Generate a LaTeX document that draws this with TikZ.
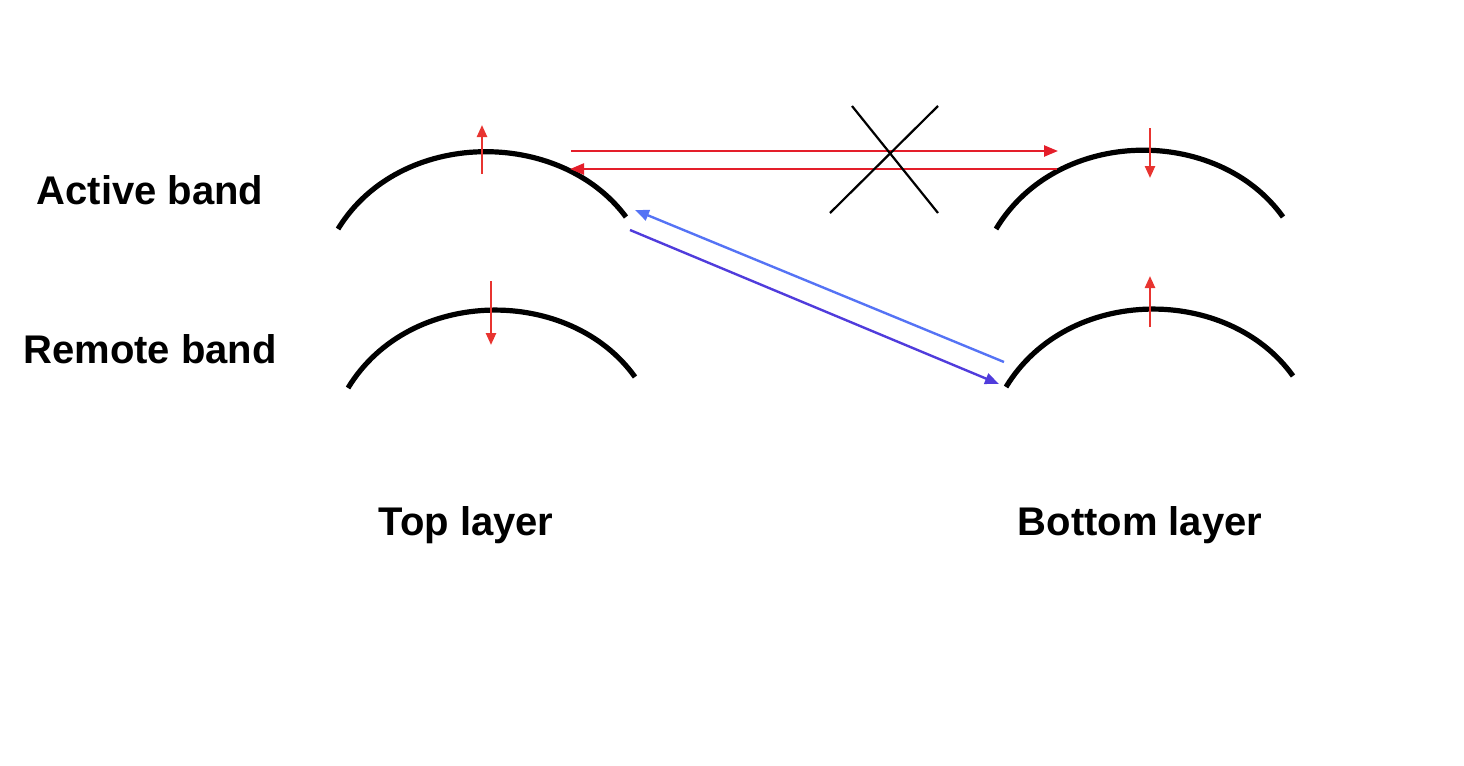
\documentclass[tikz,border=0pt]{standalone}
\usepackage{fontspec}
\setmainfont{Liberation Sans}
\usetikzlibrary{arrows.meta}
\definecolor{sred}{RGB}{232,52,48}
\definecolor{hred}{RGB}{228,30,42}
\definecolor{lblue}{RGB}{85,115,245}
\definecolor{dblue}{RGB}{80,60,220}
\begin{document}
\begin{tikzpicture}[x=0.5pt,y=-0.5pt,
  band/.style={line width=2.6pt},
  spin/.style={sred,line width=1.2pt,-{Triangle[length=6pt,width=5pt]}},
  hop/.style={line width=1.2pt,-{Triangle[length=7pt,width=5.5pt]}},
  lbl/.style={font=\bfseries\fontsize{20}{24}\selectfont}]
\useasboundingbox (0,0) rectangle (1464,766);
\draw[band] (338,229) .. controls (400,128) and (560,128) .. (626,217);
\draw[band] (996,229) .. controls (1058,126) and (1218,126) .. (1283,217);
\draw[band] (348,388) .. controls (410,286) and (570,286) .. (635,377);
\draw[band] (1006,387) .. controls (1068,285) and (1228,285) .. (1293,376);
\coordinate (a1) at (482,174); \coordinate (a2) at (482,125);
\coordinate (b1) at (1150,128); \coordinate (b2) at (1150,178);
\coordinate (c1) at (491,281); \coordinate (c2) at (491,345);
\coordinate (d1) at (1150,327); \coordinate (d2) at (1150,276);
\draw[spin] (a1) -- (a2);
\draw[spin] (b1) -- (b2);
\draw[spin] (c1) -- (c2);
\draw[spin] (d1) -- (d2);
\coordinate (h1) at (571,151); \coordinate (h2) at (1058,151);
\coordinate (h3) at (1057,169); \coordinate (h4) at (570,169);
\draw[hop,hred] (h1) -- (h2);
\draw[hop,hred] (h3) -- (h4);
\coordinate (x1) at (830,213); \coordinate (x2) at (938,106);
\coordinate (x3) at (852,106); \coordinate (x4) at (938,213);
\draw[line width=1.1pt] (x1) -- (x2) (x3) -- (x4);
\coordinate (l1) at (1004,362); \coordinate (l2) at (635,210);
\coordinate (k1) at (630,230); \coordinate (k2) at (999,384);
\draw[hop,lblue] (l1) -- (l2);
\draw[hop,dblue] (k1) -- (k2);
\node[lbl] (act) at (150,190) {Active band};
\node[lbl] (rem) at (150,349) {Remote band};
\node[lbl] (top) at (466,525) {Top layer};
\node[lbl] (bot) at (1140,525) {Bottom layer};
\end{tikzpicture}
\end{document}
